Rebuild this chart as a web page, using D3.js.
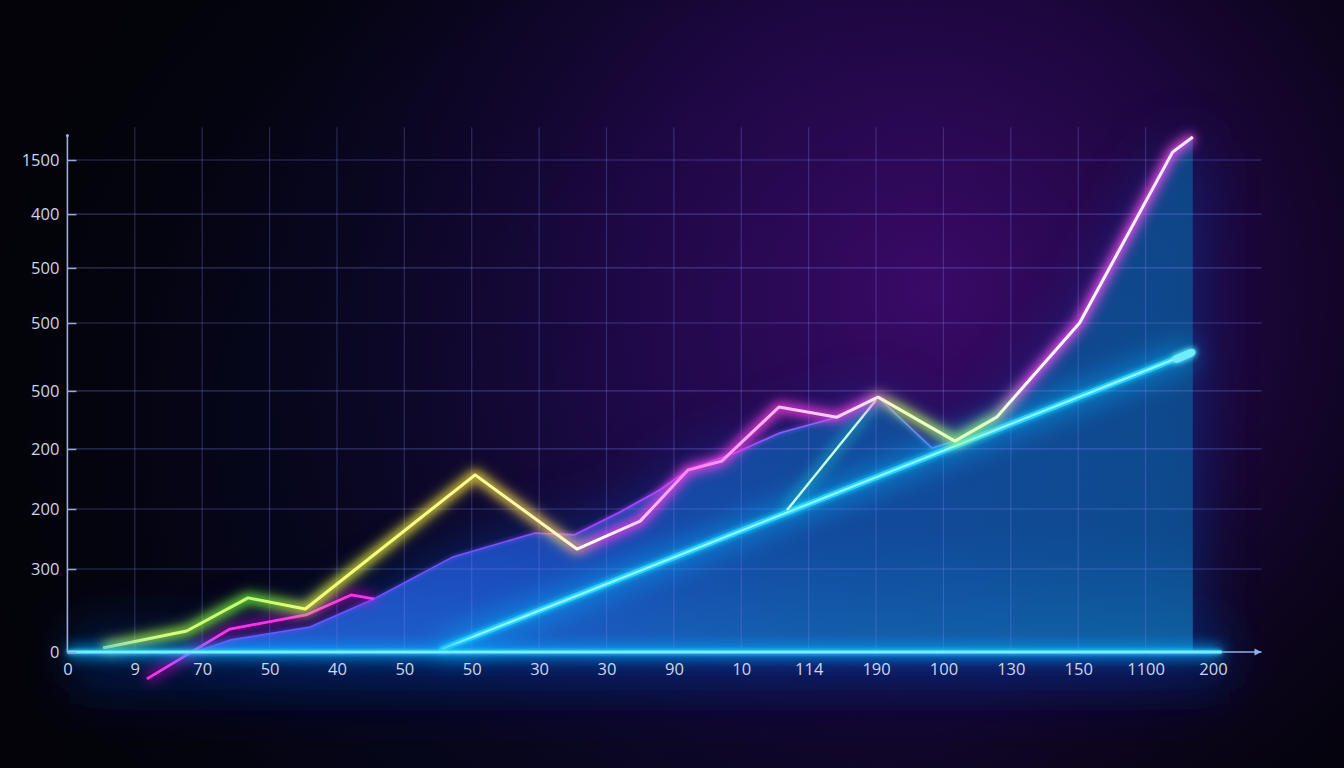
<!DOCTYPE html>
<html><head><meta charset="utf-8">
<script src="https://cdn.jsdelivr.net/npm/d3@7"></script>
<style>html,body{margin:0;padding:0;background:#03030b;overflow:hidden}</style>
</head><body>
<svg id="c" width="1344" height="768"></svg>
<script>
// ---- data ----
const xLabels = ["0","9","70","50","40","50","50","30","30","90","10","114","190","100","130","150","1100","200"];
const yTickValues = [1500,1335,1171,1003,796,619,436,253,0];
const yLabels = ["1500","400","500","500","500","200","200","300","0"];

const mainSeries = [[0.53,12],[1.77,64],[2.68,165],[3.53,131],[6.05,540],[7.56,314],[8.50,399],[9.21,555],[9.71,582],[10.56,747],[11.42,716],[12.03,777],[13.17,643],[13.79,716],[15.02,1003],[16.40,1524],[16.70,1570]];
const magentaSeries = [[1.18,-82],[2.41,70],[3.54,113],[4.21,174],[4.55,162]];
const areaSeries = [[1.89,0],[2.43,37],[3.60,76],[4.55,162],[5.72,290],[6.94,363],[7.52,357],[8.20,427],[8.79,494],[9.21,555],[9.94,610],[10.57,668],[11.42,716],[12.03,777],[12.83,622],[13.17,643],[13.79,716],[15.02,1003],[16.40,1524],[16.70,1570],[16.70,0]];
const tealSeries = [[10.68,433],[12.00,768]];
const trendSeries = [[5.56,9],[16.70,915]];

// ---- layout ----
const svg = d3.select("#c");
const x = d3.scaleLinear().domain([0,17]).range([67.4,1213]);
const y = d3.scaleLinear().domain([0,1500]).range([652,160]);
const xMax = 17.72, gridTop = 1600, axisTop = 1575;

const defs = svg.append("defs");
function glow(id, sd){
  const f = defs.append("filter").attr("id",id).attr("filterUnits","userSpaceOnUse")
    .attr("x",0).attr("y",0).attr("width",1344).attr("height",768);
  f.append("feGaussianBlur").attr("stdDeviation",sd).attr("result","b");
  const m = f.append("feMerge");
  m.append("feMergeNode").attr("in","b");
  m.append("feMergeNode").attr("in","SourceGraphic");
}
function blur(id, sd){
  const f = defs.append("filter").attr("id",id).attr("filterUnits","userSpaceOnUse")
    .attr("x",0).attr("y",0).attr("width",1344).attr("height",768);
  f.append("feGaussianBlur").attr("stdDeviation",sd);
}
glow("g2",2); glow("g3",3);
blur("b4",4); blur("b7",7); blur("b14",14); blur("b24",24); blur("b30",30);

function lin(id, x1, x2, stops, vertical){
  const g = defs.append("linearGradient").attr("id",id).attr("gradientUnits","userSpaceOnUse");
  if(vertical) g.attr("x1",0).attr("x2",0).attr("y1",x1).attr("y2",x2);
  else g.attr("x1",x1).attr("x2",x2).attr("y1",0).attr("y2",0);
  stops.forEach(s=>g.append("stop").attr("offset",s[0]).attr("stop-color",s[1]).attr("stop-opacity",s[2]===undefined?1:s[2]));
}
function rad(id, cx, cy, r, stops){
  const g = defs.append("radialGradient").attr("id",id).attr("gradientUnits","userSpaceOnUse")
    .attr("cx",cx).attr("cy",cy).attr("r",r);
  stops.forEach(s=>g.append("stop").attr("offset",s[0]).attr("stop-color",s[1]).attr("stop-opacity",s[2]));
}

// background
svg.append("rect").attr("width",1344).attr("height",768).attr("fill","#030309");
rad("bgNavy",640,430,720,[[0,"#0c0c36",0.9],[0.6,"#070722",0.6],[1,"#030309",0]]);
svg.append("rect").attr("width",1344).attr("height",768).attr("fill","url(#bgNavy)");
rad("bgPurple",930,290,680,[[0,"#400a70",0.9],[0.45,"#2a0858",0.65],[1,"#12052a",0]]);
svg.append("rect").attr("width",1344).attr("height",768).attr("fill","url(#bgPurple)");
lin("bottomGlow",615,725,[[0,"#0050d0",0],[0.33,"#0a48d0",0.4],[0.65,"#051c66",0.35],[1,"#020410",0]],true);
svg.append("rect").attr("x",70).attr("y",615).attr("width",1160).attr("height",110).attr("fill","url(#bottomGlow)").attr("filter","url(#b24)");

// area
const area = d3.area().x(d=>x(d[0])).y0(y(0)).y1(d=>y(d[1]));
lin("areaFill",x(1.9),x(16.7),[[0,"#2a48d8",0.85],[0.3,"#2048c4",0.85],[0.6,"#134c9e",0.85],[1,"#0d4a8a",0.9]]);
lin("areaBottom",y(1500),y(0),[[0,"#00a0ff",0],[0.75,"#00a0ff",0.04],[1,"#20c0ff",0.22]],true);
svg.append("path").datum(areaSeries).attr("d",area).attr("fill","#0e48b8").attr("opacity",0.5).attr("filter","url(#b30)");
svg.append("path").datum(areaSeries).attr("d",area).attr("fill","url(#areaFill)");
svg.append("path").datum(areaSeries).attr("d",area).attr("fill","url(#areaBottom)");

// grid
const grid = svg.append("g");
grid.selectAll("line.h").data(yTickValues.filter(v=>v>0)).join("line")
  .attr("x1",x(0)).attr("x2",x(xMax)).attr("y1",d=>y(d)).attr("y2",d=>y(d))
  .attr("stroke","#8a90ff").attr("stroke-opacity",0.32).attr("stroke-width",1.2);
grid.selectAll("line.v").data(d3.range(1,17)).join("line")
  .attr("x1",d=>x(d)).attr("x2",d=>x(d)).attr("y1",y(gridTop)).attr("y2",y(0))
  .attr("stroke","#8a90ff").attr("stroke-opacity",0.26).attr("stroke-width",1.2);

// area edge
const line = d3.line().x(d=>x(d[0])).y(d=>y(d[1]));
lin("edgeCol",x(1.9),x(16.7),[[0,"#5a60ff"],[0.3,"#7a50ff"],[0.4,"#b040ff"],[0.55,"#9a50ff"],[0.7,"#6080ff"],[1,"#6080ff"]]);
svg.append("path").datum(areaSeries.slice(0,-1)).attr("d",line).attr("fill","none")
  .attr("stroke","url(#edgeCol)").attr("stroke-width",1.6).attr("filter","url(#g2)");

// magenta line
svg.append("path").datum(magentaSeries).attr("d",line).attr("fill","none")
  .attr("stroke","#ff10e8").attr("stroke-width",7).attr("opacity",0.7).attr("filter","url(#b7)");
svg.append("path").datum(magentaSeries).attr("d",line).attr("fill","none")
  .attr("stroke","#ff30ee").attr("stroke-width",2.8).attr("stroke-linejoin","round");

// trend line (cyan)
svg.append("path").datum(trendSeries).attr("d",line).attr("fill","none")
  .attr("stroke","#00b0ff").attr("stroke-width",18).attr("opacity",0.65).attr("filter","url(#b14)");
svg.append("path").datum(trendSeries).attr("d",line).attr("fill","none")
  .attr("stroke","#20d4ff").attr("stroke-width",6).attr("stroke-linecap","round").attr("filter","url(#g3)");
svg.append("path").datum(trendSeries).attr("d",line).attr("fill","none")
  .attr("stroke","#9af2ff").attr("stroke-width",2.2);
svg.append("line")
  .attr("x1",x(trendSeries[1][0])-16).attr("y1",y(trendSeries[1][1])+7)
  .attr("x2",x(trendSeries[1][0])-2).attr("y2",y(trendSeries[1][1])+1)
  .attr("stroke","#70ecff").attr("stroke-width",8).attr("stroke-linecap","round").attr("filter","url(#g3)");

// teal line
svg.append("path").datum(tealSeries).attr("d",line).attr("fill","none")
  .attr("stroke","#20f0e0").attr("stroke-width",7).attr("opacity",0.6).attr("filter","url(#b7)");
svg.append("path").datum(tealSeries).attr("d",line).attr("fill","none")
  .attr("stroke","#c8fff0").attr("stroke-width",2.4);

// main line
lin("mainGlow",x(0.5),x(16.7),[
  [0,"#d8ff40"],[0.14,"#70ff40"],[0.2,"#e8ff40"],[0.34,"#ffe840"],[0.42,"#ffd060"],[0.46,"#ff40f0"],
  [0.7,"#ff40e0"],[0.73,"#c8ff60"],[0.81,"#a0ff80"],[0.85,"#ff50f0"],[1,"#ff50f0"]]);
lin("mainCore",x(0.5),x(16.7),[
  [0,"#f0ff80"],[0.14,"#c0ff70"],[0.19,"#f0ff70"],[0.34,"#ffff90"],[0.42,"#fff6c0"],[0.46,"#ffffff"],
  [0.54,"#ff80f0"],[0.6,"#ffb0f4"],[0.7,"#ffe0f8"],[0.73,"#f0ffc0"],[0.81,"#e0ffc0"],[0.85,"#ffffff"],[1,"#ffe8ff"]]);
svg.append("path").datum(mainSeries).attr("d",line).attr("fill","none")
  .attr("stroke","url(#mainGlow)").attr("stroke-width",9).attr("opacity",0.75).attr("filter","url(#b7)");
svg.append("path").datum(mainSeries).attr("d",line).attr("fill","none")
  .attr("stroke","url(#mainGlow)").attr("stroke-width",5).attr("opacity",0.8).attr("filter","url(#b4)");
svg.append("path").datum(mainSeries).attr("d",line).attr("fill","none")
  .attr("stroke","url(#mainCore)").attr("stroke-width",3).attr("stroke-linejoin","round");

// baseline (x axis glow)
svg.append("line").attr("x1",x(0)).attr("x2",x(17.13)).attr("y1",y(0)).attr("y2",y(0))
  .attr("stroke","#00a8ff").attr("stroke-width",12).attr("opacity",0.8).attr("filter","url(#b7)");
svg.append("line").attr("x1",x(0)).attr("x2",x(17.13)).attr("y1",y(0)).attr("y2",y(0))
  .attr("stroke","#40dcff").attr("stroke-width",3.5).attr("filter","url(#g2)");
svg.append("line").attr("x1",x(0)).attr("x2",x(17.13)).attr("y1",y(0)).attr("y2",y(0))
  .attr("stroke","#c0f6ff").attr("stroke-width",1.2);
svg.append("line").attr("x1",x(17.13)).attr("x2",x(xMax)).attr("y1",y(0)).attr("y2",y(0))
  .attr("stroke","#8fb2e8").attr("stroke-width",1.5);
svg.append("path").attr("d",d3.line()([[x(xMax)-7,y(0)-3.5],[x(xMax),y(0)],[x(xMax)-7,y(0)+3.5]]))
  .attr("fill","#8fb2e8");

// axes
const font = "'Open Sans', 'DejaVu Sans', sans-serif";
const yAxis = svg.append("g").attr("transform",`translate(${x(0)},0)`)
  .call(d3.axisLeft(y).tickValues(yTickValues).tickFormat((d,i)=>yLabels[i]).tickSizeInner(-9).tickSizeOuter(0).tickPadding(8));
yAxis.select(".domain").remove();
yAxis.selectAll(".tick line").attr("stroke","#9aa8d8").attr("stroke-width",1.5);
yAxis.selectAll(".tick text").attr("fill","#cdd4e6").attr("font-size",16.5).attr("font-family",font);
svg.append("line").attr("x1",x(0)).attr("x2",x(0)).attr("y1",y(axisTop)).attr("y2",y(0))
  .attr("stroke","#9aaedc").attr("stroke-width",1.6);
svg.append("circle").attr("cx",x(0)).attr("cy",y(axisTop)).attr("r",1.5).attr("fill","#9aaedc");

const xAxis = svg.append("g").attr("transform",`translate(0,${y(0)})`)
  .call(d3.axisBottom(x).tickValues(d3.range(18)).tickFormat(i=>xLabels[i]).tickSize(0).tickPadding(11));
xAxis.select(".domain").remove();
xAxis.selectAll(".tick text").attr("fill","#cdd6ee").attr("font-size",16.5).attr("font-family",font);
</script>
</body></html>
